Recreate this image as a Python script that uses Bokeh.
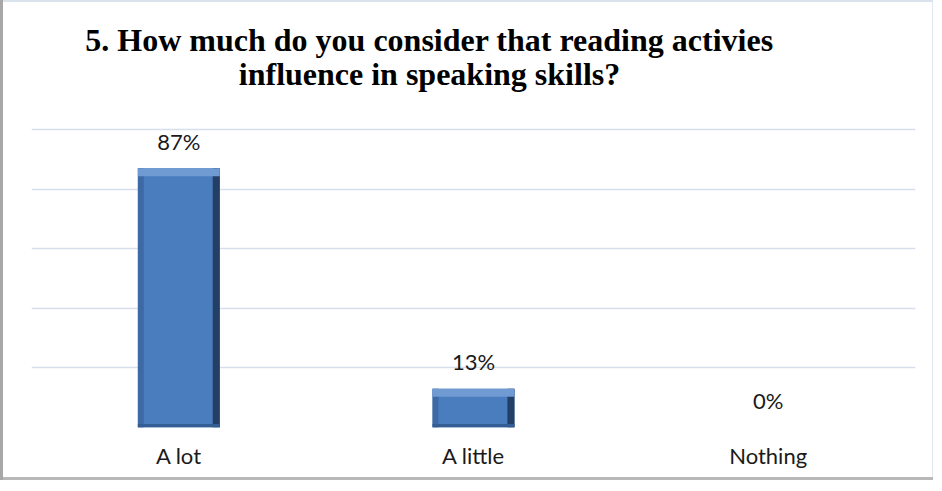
from bokeh.plotting import figure
from bokeh.models import ColumnDataSource, FactorRange, FixedTicker, Label, Range1d
from bokeh.transform import dodge
from bokeh.core.properties import value
from bokeh.embed import file_html
from bokeh.resources import INLINE

# ---- data ----
categories = ["A lot", "A little", "Nothing"]
shares = [0.87, 0.13, 0.0]
share_labels = ["87%", "13%", "0%"]
y_ticks = [0.0, 0.2, 0.4, 0.6, 0.8, 1.0]
title_lines = ["5. How much do you consider that reading activies",
               "influence in speaking skills?"]

# ---- layout constants ----
FRAME_H = 423          # frame spans title area + plot area
PLOT_H = 298           # pixel height of the 0..1 value band
BAR_W = 0.278
TOP_BEVEL = 0.027
BOT_BEVEL = 0.012

src = ColumnDataSource(dict(
    cat=categories,
    top=shares,
    lab=share_labels,
    tb=[max(v - TOP_BEVEL, 0.0) for v in shares],
    bt=[min(v, BOT_BEVEL) for v in shares],
))

p = figure(
    x_range=FactorRange(*categories, range_padding=0),
    y_range=Range1d(0, max(y_ticks) * FRAME_H / PLOT_H),
    width=933, height=480,
    output_backend="svg", toolbar_location=None,
    min_border_left=31, min_border_right=18,
    min_border_top=4, min_border_bottom=53,
    y_axis_location=None,
    border_fill_color=None,
    background_fill_color=None,
    outline_line_color=None,
)
p.styles = {
    "background-color": "white",
    "box-shadow": "inset 3px 0 0 #a8a8a8, inset 0 -3px 0 #b8b8b8, "
                  "inset 0 2px 0 #d9e2ed, inset -1px 0 0 #e3e8ef",
}

# grid
p.xgrid.grid_line_color = None
p.ygrid.ticker = FixedTicker(ticks=y_ticks)
p.ygrid.grid_line_color = "#d6e0ec"
p.ygrid.grid_line_width = 1.5

# x axis
ax = p.xaxis[0]
ax.axis_line_color = None
ax.major_tick_line_color = None
ax.minor_tick_line_color = None
ax.major_label_text_font = "Lato"
ax.major_label_text_font_size = "22px"
ax.major_label_text_color = "#1a1a1a"
ax.major_label_standoff = 8

# bars with simple bevel
p.vbar(x="cat", top="top", width=BAR_W, source=src,
       fill_color="#4a7dbd", line_color=None)
p.vbar(x=dodge("cat", -BAR_W / 2 + 0.01, range=p.x_range), top="top", width=0.02,
       source=src, fill_color="#3d6aa5", line_color=None)
p.vbar(x=dodge("cat", BAR_W / 2 - 0.012, range=p.x_range), top="top", width=0.024,
       source=src, fill_color="#243f66", line_color=None)
p.vbar(x="cat", top="top", bottom="tb", width=BAR_W, source=src,
       fill_color="#6f9ad2", line_color=None)
p.vbar(x="cat", top="bt", bottom=0, width=BAR_W, source=src,
       fill_color="#345d93", line_color=None)

# value labels
p.text(x="cat", y="top", text="lab", source=src,
       text_font=value("Lato"), text_font_size="22px", text_color="#1a1a1a",
       text_align="center", text_baseline="alphabetic", y_offset=-27)

# title (two lines), placed inside the frame's upper band
for txt, yy in zip(title_lines, [388, 354]):
    p.add_layout(Label(x=398, y=yy, x_units="screen", y_units="screen", text=txt,
                       text_font="Liberation Serif", text_font_style="bold",
                       text_font_size="32px", text_color="#000000",
                       text_align="center", text_baseline="alphabetic"))

open("out.html", "w").write(file_html(p, INLINE))
